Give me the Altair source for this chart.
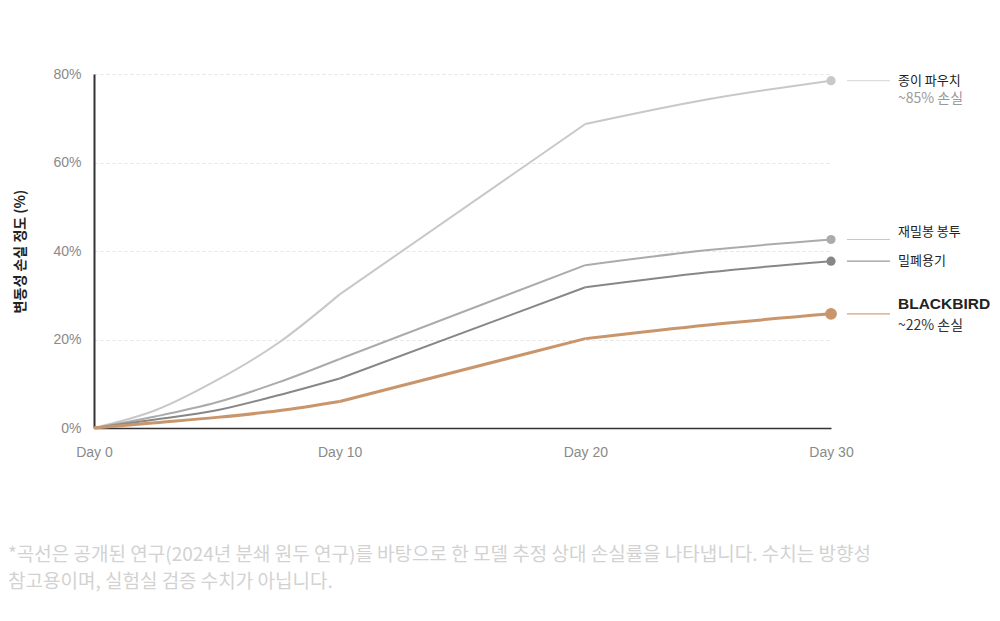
import altair as alt
import pandas as pd

# ---- data ----
series_names = ["종이 파우치", "재밀봉 봉투", "밀폐용기", "BLACKBIRD"]
series_colors = ["#c8c8c8", "#ababab", "#878787", "#c9956b"]
leader_colors = ["#dddddd", "#c8c8c8", "#9a9a9a", "#d4a27c"]

# segment A: day 0 -> 10 (smooth), segment B: 10 -> 20 (straight), segment C: 20 -> 30 (smooth)
days_a = [0, 2.5, 5, 7.5, 10]
days_b = [10, 20]
days_c = [20, 25, 30]

paper = [0, 4.0, 10.8, 19.2, 30.2, 68.7, 74.3, 78.5]
reseal = [0, 2.6, 5.8, 10.3, 15.6, 36.8, 40.2, 42.6]
airtight = [0, 1.9, 4.0, 7.4, 11.2, 31.8, 35.2, 37.7]
blackbird = [0, 1.2, 2.4, 3.9, 6.0, 20.2, 23.3, 25.8]
all_values = [paper, reseal, airtight, blackbird]

label_line1 = ["종이 파우치", "재밀봉 봉투", "밀폐용기", "BLACKBIRD"]
label_line2 = ["~85% 손실", "", "", "~22% 손실"]

x_ticks = [0, 10, 20, 30]
y_ticks = [0, 20, 40, 60, 80]

footnote = [
    "*곡선은 공개된 연구(2024년 분쇄 원두 연구)를 바탕으로 한 모델 추정 상대 손실률을 나타냅니다. 수치는 방향성",
    "참고용이며, 실험실 검증 수치가 아닙니다.",
]

# ---- build table ----
rows = []
for name, vals in zip(series_names, all_values):
    for d, v in zip(days_a, vals[0:5]):
        rows.append({"series": name, "seg": "a", "day": d, "val": v})
    for d, v in zip(days_b, [vals[4], vals[5]]):
        rows.append({"series": name, "seg": "b", "day": d, "val": v})
    for d, v in zip(days_c, vals[5:8]):
        rows.append({"series": name, "seg": "c", "day": d, "val": v})
df = pd.DataFrame(rows)

ends = pd.DataFrame({
    "series": series_names,
    "day": [30] * 4,
    "val": [v[-1] for v in all_values],
    "line1": label_line1,
    "line2": label_line2,
    "lc": leader_colors,
})

FONT = "Liberation Sans"
KFONT = "Noto Sans CJK KR"

W, H = 737, 354

xscale = alt.Scale(domain=[0, 30], nice=False, zero=False)
yscale = alt.Scale(domain=[0, 80], nice=False)
cscale = alt.Scale(domain=series_names, range=series_colors)

x_enc = alt.X(
    "day:Q", scale=xscale,
    axis=alt.Axis(values=x_ticks, labelExpr="'Day ' + datum.value", title=None,
                  grid=False, ticks=False, domainColor="#333333", domainWidth=1.5,
                  labelColor="#8a8a8a", labelFontSize=14, labelFont=FONT,
                  labelPadding=17, labelFlush=False),
)
y_enc = alt.Y(
    "val:Q", scale=yscale,
    axis=alt.Axis(values=y_ticks, labelExpr="datum.value + '%'",
                  title="변동성 손실 정도 (%)", titleFont=KFONT, titleFontSize=14,
                  titleFontWeight="bold", titleColor="#222222", titlePadding=25,
                  grid=True, gridDash=[3, 3], gridColor="#e3e3e3", gridWidth=1,
                  ticks=False, domainColor="#333333", domainWidth=2,
                  labelColor="#8a8a8a", labelFontSize=14, labelFont=FONT,
                  labelPadding=13, labelFlush=False),
)
yq = alt.Y("val:Q", scale=yscale)
xq = alt.X("day:Q", scale=xscale)

gray_df = df[df.series != "BLACKBIRD"]
bb_df = df[df.series == "BLACKBIRD"]

gray_lines = alt.Chart(gray_df).mark_line(interpolate="monotone", strokeWidth=2).encode(
    x=x_enc, y=y_enc,
    color=alt.Color("series:N", scale=cscale, legend=None),
    detail="seg:N",
)
bb_line = alt.Chart(bb_df).mark_line(interpolate="monotone", strokeWidth=3).encode(
    x=xq, y=yq,
    color=alt.Color("series:N", scale=cscale, legend=None),
    detail="seg:N",
)

gray_pts = alt.Chart(ends[ends.series != "BLACKBIRD"]).mark_circle(size=85, opacity=1).encode(
    x=xq, y=yq, color=alt.Color("series:N", scale=cscale, legend=None)
)
bb_pt = alt.Chart(ends[ends.series == "BLACKBIRD"]).mark_circle(size=140, opacity=1).encode(
    x=xq, y=yq, color=alt.Color("series:N", scale=cscale, legend=None)
)

leaders = alt.Chart(ends).mark_rule(strokeWidth=1.2).encode(
    x=alt.value(W + 16), x2=alt.value(W + 59),
    y=yq,
    color=alt.Color("lc:N", scale=None),
)

layers = [gray_lines, bb_line, gray_pts, bb_pt, leaders]

offsets1 = [0, -7, 0, -10]
offsets2 = [18, 0, 0, 12]
for i, name in enumerate(series_names):
    sub = ends[ends.series == name]
    bold = name == "BLACKBIRD"
    layers.append(
        alt.Chart(sub).mark_text(
            align="left", baseline="middle", dy=offsets1[i],
            fontSize=15.5 if bold else 13, fontWeight="bold" if bold else "normal",
            font=FONT if bold else KFONT, color="#222222",
        ).encode(x=alt.value(W + 67), y=yq, text="line1:N")
    )
    if label_line2[i]:
        layers.append(
            alt.Chart(sub).mark_text(
                align="left", baseline="middle", dy=offsets2[i],
                fontSize=14, font=KFONT,
                color="#333333" if bold else "#9a9a9a",
            ).encode(x=alt.value(W + 67), y=yq, text="line2:N")
        )

foot_y = [481, 508]
for i, line in enumerate(footnote):
    layers.append(
        alt.Chart(pd.DataFrame({"t": [line]})).mark_text(
            align="left", baseline="middle", fontSize=19, font=KFONT, color="#d2d2d2"
        ).encode(x=alt.value(-86), y=alt.value(foot_y[i]), text="t:N")
    )

chart = alt.layer(*layers).properties(
    width=W, height=H,
    background="white",
    autosize=alt.AutoSizeParams(type="none"),
    padding={"left": 86, "top": 66, "right": 160, "bottom": 180},
).configure_view(stroke=None)

chart.save("out.html", embed_options={"renderer": "svg", "actions": False})
